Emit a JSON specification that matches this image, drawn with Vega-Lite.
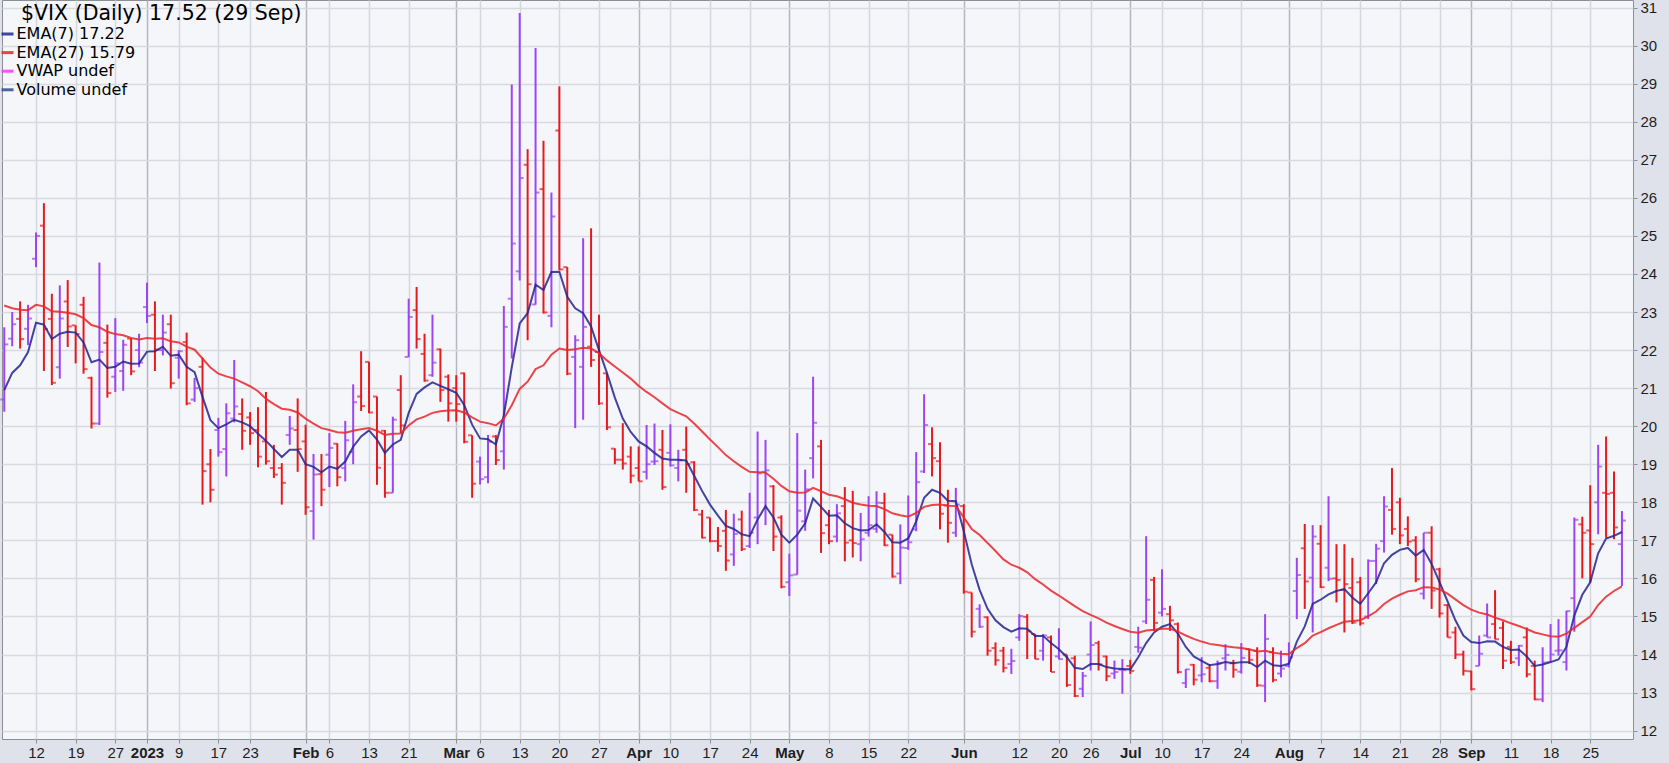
{
"$schema": "https://vega.github.io/schema/vega-lite/v6.json",
"width": 1631, "height": 739,
"padding": {"left": 2, "top": 0, "right": 36, "bottom": 24},
"autosize": {"type": "none"},
"background": "#dfe2ea",
"title": {"text": "$VIX (Daily) 17.52 (29 Sep)", "anchor": "start", "orient": "top", "offset": -34.5, "frame": "group", "dx": 19, "baseline": "middle", "font": "DejaVu Sans", "fontSize": 20.5, "fontWeight": "normal", "color": "#000000", "limit": 600},
"config": {
  "view": {"fill": "#f5f6fa", "stroke": "#8c8e96", "strokeWidth": 1},
  "font": "Liberation Sans",
  "axis": {"labelOverlap": false},
  "axisY": {"labelOverlap": false, "labelFlush": false, "labelBound": false}
},
"data": {"values": [
{"d":"2022-12-06","o":20.7,"h":22.6,"l":20.38,"c":22.15,"dir":"up","e7":20.95,"e27":23.17},
{"d":"2022-12-07","o":22.3,"h":23.0,"l":22.1,"c":22.68,"dir":"up","e7":21.4,"e27":23.1},
{"d":"2022-12-08","o":22.82,"h":23.28,"l":22.04,"c":22.29,"dir":"down","e7":21.6,"e27":23.06},
{"d":"2022-12-09","o":22.56,"h":23.19,"l":22.13,"c":22.83,"dir":"up","e7":21.95,"e27":23.05},
{"d":"2022-12-12","o":24.4,"h":25.09,"l":24.18,"c":25.0,"dir":"up","e7":22.72,"e27":23.19},
{"d":"2022-12-13","o":25.27,"h":25.86,"l":21.45,"c":22.55,"dir":"down","e7":22.67,"e27":23.15},
{"d":"2022-12-14","o":22.82,"h":23.48,"l":21.08,"c":21.14,"dir":"down","e7":22.29,"e27":23.02},
{"d":"2022-12-15","o":21.55,"h":23.7,"l":21.25,"c":22.83,"dir":"up","e7":22.43,"e27":23.01},
{"d":"2022-12-16","o":23.28,"h":23.84,"l":22.08,"c":22.62,"dir":"down","e7":22.48,"e27":22.98},
{"d":"2022-12-19","o":22.65,"h":22.65,"l":21.65,"c":22.42,"dir":"down","e7":22.46,"e27":22.94},
{"d":"2022-12-20","o":23.19,"h":23.4,"l":21.38,"c":21.5,"dir":"down","e7":22.2,"e27":22.84},
{"d":"2022-12-21","o":21.27,"h":21.3,"l":19.94,"c":20.07,"dir":"down","e7":21.68,"e27":22.66},
{"d":"2022-12-22","o":20.07,"h":24.3,"l":20.03,"c":21.95,"dir":"up","e7":21.75,"e27":22.6},
{"d":"2022-12-23","o":22.19,"h":22.67,"l":20.75,"c":20.87,"dir":"down","e7":21.53,"e27":22.48},
{"d":"2022-12-27","o":21.3,"h":22.84,"l":20.9,"c":21.65,"dir":"up","e7":21.56,"e27":22.42},
{"d":"2022-12-28","o":21.45,"h":22.27,"l":20.93,"c":22.14,"dir":"up","e7":21.7,"e27":22.39},
{"d":"2022-12-29","o":22.3,"h":22.31,"l":21.34,"c":21.44,"dir":"down","e7":21.64,"e27":22.32},
{"d":"2022-12-30","o":22.0,"h":22.43,"l":21.55,"c":21.67,"dir":"up","e7":21.65,"e27":22.28},
{"d":"2023-01-03","o":23.13,"h":23.77,"l":22.71,"c":22.9,"dir":"up","e7":21.96,"e27":22.32},
{"d":"2023-01-04","o":22.93,"h":23.28,"l":21.45,"c":22.01,"dir":"down","e7":21.97,"e27":22.3},
{"d":"2023-01-05","o":22.0,"h":22.93,"l":21.86,"c":22.46,"dir":"up","e7":22.09,"e27":22.31},
{"d":"2023-01-06","o":22.68,"h":22.93,"l":20.99,"c":21.13,"dir":"down","e7":21.85,"e27":22.23},
{"d":"2023-01-09","o":21.8,"h":22.0,"l":21.25,"c":21.97,"dir":"up","e7":21.88,"e27":22.2},
{"d":"2023-01-10","o":22.21,"h":22.46,"l":20.55,"c":20.6,"dir":"down","e7":21.56,"e27":22.09},
{"d":"2023-01-11","o":20.7,"h":21.27,"l":20.64,"c":21.0,"dir":"up","e7":21.42,"e27":22.01},
{"d":"2023-01-12","o":21.56,"h":21.8,"l":17.94,"c":18.82,"dir":"down","e7":20.77,"e27":21.78},
{"d":"2023-01-13","o":19.0,"h":19.4,"l":18.0,"c":18.33,"dir":"down","e7":20.16,"e27":21.54},
{"d":"2023-01-17","o":19.9,"h":20.22,"l":19.2,"c":19.32,"dir":"up","e7":19.95,"e27":21.38},
{"d":"2023-01-18","o":19.4,"h":20.6,"l":18.68,"c":20.34,"dir":"up","e7":20.05,"e27":21.31},
{"d":"2023-01-19","o":20.2,"h":21.74,"l":20.1,"c":20.52,"dir":"up","e7":20.17,"e27":21.25},
{"d":"2023-01-20","o":20.32,"h":20.73,"l":19.38,"c":19.88,"dir":"down","e7":20.1,"e27":21.15},
{"d":"2023-01-23","o":20.23,"h":20.37,"l":19.51,"c":19.82,"dir":"down","e7":20.0,"e27":21.05},
{"d":"2023-01-24","o":19.9,"h":20.5,"l":18.92,"c":19.2,"dir":"down","e7":19.8,"e27":20.92},
{"d":"2023-01-25","o":19.6,"h":20.9,"l":18.99,"c":19.08,"dir":"down","e7":19.62,"e27":20.72},
{"d":"2023-01-26","o":18.9,"h":19.51,"l":18.64,"c":18.73,"dir":"down","e7":19.4,"e27":20.58},
{"d":"2023-01-27","o":18.9,"h":19.03,"l":17.94,"c":18.51,"dir":"down","e7":19.19,"e27":20.46},
{"d":"2023-01-30","o":19.77,"h":20.27,"l":19.51,"c":19.94,"dir":"up","e7":19.38,"e27":20.43},
{"d":"2023-01-31","o":19.9,"h":20.73,"l":18.8,"c":19.4,"dir":"down","e7":19.38,"e27":20.36},
{"d":"2023-02-01","o":19.6,"h":20.04,"l":17.67,"c":17.87,"dir":"down","e7":19.0,"e27":20.2},
{"d":"2023-02-02","o":17.77,"h":19.27,"l":17.02,"c":18.73,"dir":"up","e7":18.93,"e27":20.07},
{"d":"2023-02-03","o":18.74,"h":19.27,"l":17.9,"c":18.33,"dir":"down","e7":18.79,"e27":19.95},
{"d":"2023-02-06","o":19.25,"h":19.82,"l":18.4,"c":19.43,"dir":"up","e7":18.94,"e27":19.9},
{"d":"2023-02-07","o":19.54,"h":19.55,"l":18.42,"c":18.66,"dir":"down","e7":18.88,"e27":19.84},
{"d":"2023-02-08","o":18.9,"h":20.14,"l":18.55,"c":19.63,"dir":"up","e7":19.07,"e27":19.83},
{"d":"2023-02-09","o":19.32,"h":21.1,"l":19.0,"c":20.63,"dir":"up","e7":19.46,"e27":19.88},
{"d":"2023-02-10","o":20.78,"h":21.97,"l":20.4,"c":20.53,"dir":"down","e7":19.73,"e27":19.92},
{"d":"2023-02-13","o":21.69,"h":21.69,"l":20.34,"c":20.36,"dir":"down","e7":19.89,"e27":19.95},
{"d":"2023-02-14","o":20.78,"h":20.78,"l":18.46,"c":18.91,"dir":"down","e7":19.65,"e27":19.88},
{"d":"2023-02-15","o":19.88,"h":19.9,"l":18.12,"c":18.25,"dir":"down","e7":19.3,"e27":19.77},
{"d":"2023-02-16","o":18.25,"h":20.25,"l":18.25,"c":20.17,"dir":"up","e7":19.52,"e27":19.8},
{"d":"2023-02-17","o":20.95,"h":21.34,"l":19.82,"c":20.02,"dir":"down","e7":19.64,"e27":19.81},
{"d":"2023-02-21","o":21.82,"h":23.35,"l":21.82,"c":22.87,"dir":"up","e7":20.35,"e27":20.02},
{"d":"2023-02-22","o":23.05,"h":23.66,"l":22.04,"c":22.29,"dir":"down","e7":20.85,"e27":20.18},
{"d":"2023-02-23","o":21.9,"h":22.43,"l":21.17,"c":21.2,"dir":"down","e7":21.02,"e27":20.25},
{"d":"2023-02-24","o":21.34,"h":22.93,"l":21.3,"c":21.67,"dir":"up","e7":21.15,"e27":20.35},
{"d":"2023-02-27","o":22.02,"h":22.04,"l":20.64,"c":20.95,"dir":"down","e7":21.06,"e27":20.39},
{"d":"2023-02-28","o":21.3,"h":21.36,"l":20.12,"c":20.6,"dir":"down","e7":20.97,"e27":20.41},
{"d":"2023-03-01","o":21.0,"h":21.34,"l":20.12,"c":20.58,"dir":"down","e7":20.88,"e27":20.42},
{"d":"2023-03-02","o":21.39,"h":21.41,"l":19.55,"c":19.59,"dir":"down","e7":20.56,"e27":20.36},
{"d":"2023-03-03","o":19.76,"h":19.76,"l":18.12,"c":18.49,"dir":"down","e7":20.04,"e27":20.23},
{"d":"2023-03-06","o":19.07,"h":19.2,"l":18.47,"c":18.61,"dir":"up","e7":19.68,"e27":20.12},
{"d":"2023-03-07","o":18.66,"h":19.77,"l":18.5,"c":19.59,"dir":"up","e7":19.66,"e27":20.08},
{"d":"2023-03-08","o":19.73,"h":19.77,"l":18.98,"c":19.11,"dir":"down","e7":19.52,"e27":20.02},
{"d":"2023-03-09","o":19.34,"h":23.16,"l":18.86,"c":22.61,"dir":"up","e7":20.29,"e27":20.2},
{"d":"2023-03-10","o":23.35,"h":28.98,"l":21.78,"c":24.8,"dir":"up","e7":21.55,"e27":20.55},
{"d":"2023-03-13","o":24.07,"h":30.86,"l":23.83,"c":26.52,"dir":"up","e7":22.7,"e27":20.98},
{"d":"2023-03-14","o":26.87,"h":27.28,"l":22.26,"c":23.73,"dir":"down","e7":22.97,"e27":21.17},
{"d":"2023-03-15","o":23.2,"h":29.94,"l":23.19,"c":26.14,"dir":"up","e7":23.72,"e27":21.5},
{"d":"2023-03-16","o":26.23,"h":27.5,"l":22.96,"c":22.99,"dir":"down","e7":23.58,"e27":21.6},
{"d":"2023-03-17","o":22.9,"h":26.14,"l":22.6,"c":25.51,"dir":"up","e7":24.05,"e27":21.88},
{"d":"2023-03-20","o":27.77,"h":28.93,"l":24.1,"c":24.12,"dir":"down","e7":24.06,"e27":22.04},
{"d":"2023-03-21","o":24.18,"h":24.18,"l":21.34,"c":21.38,"dir":"down","e7":23.4,"e27":22.0},
{"d":"2023-03-22","o":21.82,"h":22.39,"l":19.95,"c":22.26,"dir":"up","e7":23.1,"e27":22.02},
{"d":"2023-03-23","o":21.56,"h":24.94,"l":20.17,"c":22.61,"dir":"up","e7":22.97,"e27":22.06},
{"d":"2023-03-24","o":22.09,"h":25.2,"l":21.56,"c":21.74,"dir":"down","e7":22.62,"e27":22.04},
{"d":"2023-03-27","o":21.95,"h":22.93,"l":20.56,"c":20.6,"dir":"down","e7":22.0,"e27":21.92},
{"d":"2023-03-28","o":21.39,"h":21.39,"l":19.9,"c":19.97,"dir":"down","e7":21.4,"e27":21.73},
{"d":"2023-03-29","o":19.41,"h":19.42,"l":19.0,"c":19.12,"dir":"down","e7":20.75,"e27":21.57},
{"d":"2023-03-30","o":19.12,"h":20.08,"l":18.86,"c":19.02,"dir":"down","e7":20.2,"e27":21.41},
{"d":"2023-03-31","o":19.2,"h":19.47,"l":18.5,"c":18.7,"dir":"down","e7":19.85,"e27":21.25},
{"d":"2023-04-03","o":18.9,"h":19.47,"l":18.55,"c":18.55,"dir":"down","e7":19.6,"e27":21.06},
{"d":"2023-04-04","o":18.8,"h":20.03,"l":18.6,"c":19.0,"dir":"up","e7":19.47,"e27":20.9},
{"d":"2023-04-05","o":19.07,"h":20.07,"l":18.98,"c":19.08,"dir":"up","e7":19.3,"e27":20.76},
{"d":"2023-04-06","o":19.38,"h":19.9,"l":18.33,"c":18.4,"dir":"down","e7":19.15,"e27":20.6},
{"d":"2023-04-10","o":19.3,"h":20.05,"l":18.94,"c":18.97,"dir":"up","e7":19.12,"e27":20.45},
{"d":"2023-04-11","o":18.9,"h":19.38,"l":18.55,"c":19.1,"dir":"up","e7":19.12,"e27":20.35},
{"d":"2023-04-12","o":19.38,"h":19.99,"l":18.25,"c":19.0,"dir":"down","e7":19.1,"e27":20.26},
{"d":"2023-04-13","o":19.05,"h":19.08,"l":17.77,"c":17.8,"dir":"down","e7":18.7,"e27":20.07},
{"d":"2023-04-14","o":17.68,"h":17.8,"l":17.05,"c":17.07,"dir":"down","e7":18.3,"e27":19.86},
{"d":"2023-04-17","o":17.6,"h":17.6,"l":16.95,"c":16.98,"dir":"down","e7":17.94,"e27":19.65},
{"d":"2023-04-18","o":16.98,"h":17.35,"l":16.7,"c":16.85,"dir":"down","e7":17.65,"e27":19.45},
{"d":"2023-04-19","o":17.25,"h":17.8,"l":16.2,"c":16.47,"dir":"down","e7":17.38,"e27":19.24},
{"d":"2023-04-20","o":16.63,"h":17.7,"l":16.33,"c":17.17,"dir":"up","e7":17.3,"e27":19.08},
{"d":"2023-04-21","o":17.55,"h":17.78,"l":16.72,"c":16.77,"dir":"down","e7":17.16,"e27":18.93},
{"d":"2023-04-24","o":16.85,"h":18.25,"l":16.8,"c":17.2,"dir":"up","e7":17.11,"e27":18.8},
{"d":"2023-04-25","o":17.6,"h":19.86,"l":16.9,"c":18.76,"dir":"up","e7":17.55,"e27":18.79},
{"d":"2023-04-26","o":18.8,"h":19.64,"l":17.4,"c":18.84,"dir":"up","e7":17.9,"e27":18.78},
{"d":"2023-04-27","o":18.42,"h":18.45,"l":16.72,"c":17.1,"dir":"down","e7":17.6,"e27":18.62},
{"d":"2023-04-28","o":17.6,"h":17.66,"l":15.74,"c":15.78,"dir":"down","e7":17.15,"e27":18.43},
{"d":"2023-05-01","o":15.9,"h":16.65,"l":15.54,"c":16.08,"dir":"up","e7":16.94,"e27":18.29},
{"d":"2023-05-02","o":16.1,"h":19.82,"l":16.1,"c":17.78,"dir":"up","e7":17.15,"e27":18.25},
{"d":"2023-05-03","o":17.5,"h":18.86,"l":17.25,"c":18.34,"dir":"up","e7":17.45,"e27":18.26},
{"d":"2023-05-04","o":19.16,"h":21.3,"l":18.63,"c":20.09,"dir":"up","e7":18.1,"e27":18.38},
{"d":"2023-05-05","o":19.47,"h":19.64,"l":16.67,"c":17.19,"dir":"down","e7":17.88,"e27":18.29},
{"d":"2023-05-08","o":17.4,"h":17.8,"l":16.9,"c":16.98,"dir":"down","e7":17.65,"e27":18.2},
{"d":"2023-05-09","o":17.1,"h":17.95,"l":16.95,"c":17.71,"dir":"up","e7":17.66,"e27":18.16},
{"d":"2023-05-10","o":17.9,"h":18.4,"l":16.45,"c":16.94,"dir":"down","e7":17.45,"e27":18.08},
{"d":"2023-05-11","o":17.0,"h":18.3,"l":16.55,"c":16.93,"dir":"down","e7":17.32,"e27":17.99},
{"d":"2023-05-12","o":16.9,"h":17.72,"l":16.45,"c":17.03,"dir":"up","e7":17.26,"e27":17.94},
{"d":"2023-05-15","o":17.2,"h":18.16,"l":17.1,"c":17.4,"dir":"up","e7":17.27,"e27":17.91},
{"d":"2023-05-16","o":17.3,"h":18.29,"l":17.2,"c":17.99,"dir":"up","e7":17.42,"e27":17.9},
{"d":"2023-05-17","o":17.98,"h":18.25,"l":16.85,"c":16.87,"dir":"down","e7":17.22,"e27":17.82},
{"d":"2023-05-18","o":17.15,"h":17.15,"l":16.02,"c":16.05,"dir":"down","e7":16.95,"e27":17.71},
{"d":"2023-05-19","o":16.13,"h":17.42,"l":15.85,"c":16.81,"dir":"up","e7":16.94,"e27":17.66},
{"d":"2023-05-22","o":16.8,"h":18.18,"l":16.75,"c":16.95,"dir":"up","e7":17.05,"e27":17.62},
{"d":"2023-05-23","o":17.29,"h":19.32,"l":17.24,"c":18.53,"dir":"up","e7":17.5,"e27":17.72},
{"d":"2023-05-24","o":18.81,"h":20.84,"l":18.77,"c":20.03,"dir":"up","e7":18.12,"e27":17.88},
{"d":"2023-05-25","o":19.53,"h":19.97,"l":18.68,"c":19.16,"dir":"down","e7":18.33,"e27":17.93},
{"d":"2023-05-26","o":19.08,"h":19.58,"l":17.29,"c":17.7,"dir":"down","e7":18.25,"e27":17.94},
{"d":"2023-05-30","o":17.92,"h":18.33,"l":16.94,"c":17.46,"dir":"down","e7":18.04,"e27":17.91},
{"d":"2023-05-31","o":17.2,"h":18.38,"l":17.09,"c":17.94,"dir":"up","e7":18.03,"e27":17.9},
{"d":"2023-06-01","o":17.9,"h":17.95,"l":15.6,"c":15.65,"dir":"down","e7":17.24,"e27":17.6},
{"d":"2023-06-02","o":15.63,"h":15.63,"l":14.45,"c":14.6,"dir":"down","e7":16.37,"e27":17.3},
{"d":"2023-06-05","o":15.2,"h":15.32,"l":14.7,"c":14.73,"dir":"up","e7":15.7,"e27":17.14},
{"d":"2023-06-06","o":14.98,"h":15.0,"l":13.97,"c":14.1,"dir":"down","e7":15.2,"e27":16.93},
{"d":"2023-06-07","o":14.17,"h":14.32,"l":13.71,"c":13.85,"dir":"down","e7":14.9,"e27":16.72},
{"d":"2023-06-08","o":14.1,"h":14.2,"l":13.53,"c":13.65,"dir":"down","e7":14.72,"e27":16.5},
{"d":"2023-06-09","o":13.75,"h":14.15,"l":13.49,"c":13.83,"dir":"up","e7":14.6,"e27":16.36},
{"d":"2023-06-12","o":14.45,"h":15.06,"l":14.36,"c":15.01,"dir":"up","e7":14.69,"e27":16.28},
{"d":"2023-06-13","o":14.99,"h":15.06,"l":13.88,"c":14.61,"dir":"down","e7":14.68,"e27":16.16},
{"d":"2023-06-14","o":14.54,"h":14.54,"l":13.88,"c":13.88,"dir":"down","e7":14.49,"e27":15.98},
{"d":"2023-06-15","o":14.1,"h":14.54,"l":13.84,"c":14.5,"dir":"up","e7":14.49,"e27":15.84},
{"d":"2023-06-16","o":14.45,"h":14.5,"l":13.54,"c":13.54,"dir":"down","e7":14.3,"e27":15.68},
{"d":"2023-06-20","o":13.95,"h":14.69,"l":13.87,"c":13.88,"dir":"up","e7":14.14,"e27":15.55},
{"d":"2023-06-21","o":14.0,"h":14.0,"l":13.15,"c":13.2,"dir":"down","e7":13.93,"e27":15.41},
{"d":"2023-06-22","o":13.9,"h":13.97,"l":12.88,"c":12.91,"dir":"down","e7":13.65,"e27":15.27},
{"d":"2023-06-23","o":13.1,"h":13.54,"l":12.88,"c":13.44,"dir":"up","e7":13.62,"e27":15.14},
{"d":"2023-06-26","o":14.0,"h":14.87,"l":13.58,"c":14.25,"dir":"up","e7":13.75,"e27":15.04},
{"d":"2023-06-27","o":14.3,"h":14.36,"l":13.58,"c":13.74,"dir":"down","e7":13.75,"e27":14.95},
{"d":"2023-06-28","o":13.95,"h":13.97,"l":13.3,"c":13.43,"dir":"down","e7":13.67,"e27":14.84},
{"d":"2023-06-29","o":13.5,"h":13.84,"l":13.36,"c":13.54,"dir":"up","e7":13.63,"e27":14.75},
{"d":"2023-06-30","o":13.6,"h":13.88,"l":12.97,"c":13.59,"dir":"up","e7":13.62,"e27":14.67},
{"d":"2023-07-03","o":13.7,"h":13.86,"l":13.49,"c":13.57,"dir":"down","e7":13.61,"e27":14.6},
{"d":"2023-07-05","o":14.2,"h":14.73,"l":14.05,"c":14.18,"dir":"up","e7":13.93,"e27":14.57},
{"d":"2023-07-06","o":14.87,"h":17.11,"l":14.8,"c":15.44,"dir":"up","e7":14.3,"e27":14.63},
{"d":"2023-07-07","o":15.96,"h":16.04,"l":14.62,"c":14.83,"dir":"down","e7":14.58,"e27":14.65},
{"d":"2023-07-10","o":15.1,"h":16.24,"l":15.0,"c":15.2,"dir":"up","e7":14.73,"e27":14.68},
{"d":"2023-07-11","o":15.06,"h":15.28,"l":14.62,"c":14.9,"dir":"down","e7":14.8,"e27":14.68},
{"d":"2023-07-12","o":14.8,"h":14.84,"l":13.5,"c":13.54,"dir":"down","e7":14.55,"e27":14.6},
{"d":"2023-07-13","o":13.25,"h":13.62,"l":13.12,"c":13.61,"dir":"up","e7":14.2,"e27":14.5},
{"d":"2023-07-14","o":13.73,"h":13.75,"l":13.19,"c":13.34,"dir":"down","e7":13.95,"e27":14.41},
{"d":"2023-07-17","o":13.45,"h":13.93,"l":13.27,"c":13.48,"dir":"up","e7":13.83,"e27":14.34},
{"d":"2023-07-18","o":13.65,"h":13.75,"l":13.27,"c":13.3,"dir":"down","e7":13.72,"e27":14.28},
{"d":"2023-07-19","o":13.3,"h":13.84,"l":13.1,"c":13.76,"dir":"up","e7":13.75,"e27":14.25},
{"d":"2023-07-20","o":13.9,"h":14.27,"l":13.58,"c":13.99,"dir":"up","e7":13.8,"e27":14.22},
{"d":"2023-07-21","o":13.77,"h":13.86,"l":13.39,"c":13.6,"dir":"down","e7":13.77,"e27":14.19},
{"d":"2023-07-24","o":13.55,"h":14.3,"l":13.5,"c":13.91,"dir":"up","e7":13.8,"e27":14.17},
{"d":"2023-07-25","o":14.14,"h":14.15,"l":13.75,"c":13.86,"dir":"down","e7":13.8,"e27":14.14},
{"d":"2023-07-26","o":14.1,"h":14.19,"l":13.15,"c":13.19,"dir":"down","e7":13.67,"e27":14.08},
{"d":"2023-07-27","o":13.18,"h":15.06,"l":12.75,"c":14.41,"dir":"up","e7":13.84,"e27":14.1},
{"d":"2023-07-28","o":14.06,"h":14.19,"l":13.27,"c":13.33,"dir":"down","e7":13.72,"e27":14.05},
{"d":"2023-07-31","o":13.5,"h":14.1,"l":13.4,"c":13.63,"dir":"up","e7":13.7,"e27":14.02},
{"d":"2023-08-01","o":13.7,"h":14.32,"l":13.66,"c":13.93,"dir":"up","e7":13.76,"e27":14.01},
{"d":"2023-08-02","o":15.67,"h":16.54,"l":14.93,"c":16.09,"dir":"up","e7":14.34,"e27":14.17},
{"d":"2023-08-03","o":16.79,"h":17.43,"l":15.2,"c":15.92,"dir":"down","e7":14.74,"e27":14.3},
{"d":"2023-08-04","o":16.02,"h":17.4,"l":14.58,"c":17.1,"dir":"up","e7":15.33,"e27":14.5},
{"d":"2023-08-07","o":16.91,"h":17.4,"l":15.75,"c":15.77,"dir":"down","e7":15.44,"e27":14.59},
{"d":"2023-08-08","o":16.28,"h":18.16,"l":15.93,"c":15.99,"dir":"up","e7":15.58,"e27":14.69},
{"d":"2023-08-09","o":16.0,"h":16.9,"l":15.37,"c":15.96,"dir":"down","e7":15.67,"e27":14.78},
{"d":"2023-08-10","o":15.7,"h":16.9,"l":14.58,"c":15.85,"dir":"down","e7":15.72,"e27":14.86},
{"d":"2023-08-11","o":15.75,"h":16.54,"l":14.8,"c":14.84,"dir":"down","e7":15.5,"e27":14.88},
{"d":"2023-08-14","o":15.9,"h":16.04,"l":14.76,"c":14.82,"dir":"down","e7":15.33,"e27":14.9},
{"d":"2023-08-15","o":15.0,"h":16.5,"l":14.93,"c":16.46,"dir":"up","e7":15.61,"e27":15.0},
{"d":"2023-08-16","o":16.46,"h":16.91,"l":15.85,"c":16.78,"dir":"up","e7":15.9,"e27":15.13},
{"d":"2023-08-17","o":16.98,"h":18.16,"l":16.68,"c":17.89,"dir":"up","e7":16.4,"e27":15.33},
{"d":"2023-08-18","o":17.8,"h":18.9,"l":17.15,"c":17.3,"dir":"down","e7":16.62,"e27":15.47},
{"d":"2023-08-21","o":18.0,"h":18.12,"l":16.9,"c":17.13,"dir":"down","e7":16.75,"e27":15.57},
{"d":"2023-08-22","o":17.3,"h":17.63,"l":16.85,"c":16.97,"dir":"down","e7":16.8,"e27":15.66},
{"d":"2023-08-23","o":17.0,"h":17.11,"l":15.9,"c":15.98,"dir":"down","e7":16.6,"e27":15.69},
{"d":"2023-08-24","o":15.6,"h":17.2,"l":15.45,"c":17.2,"dir":"up","e7":16.75,"e27":15.77},
{"d":"2023-08-25","o":17.2,"h":17.37,"l":15.2,"c":15.68,"dir":"down","e7":16.38,"e27":15.76},
{"d":"2023-08-28","o":16.24,"h":16.28,"l":14.97,"c":15.08,"dir":"down","e7":15.9,"e27":15.71},
{"d":"2023-08-29","o":15.3,"h":15.32,"l":14.45,"c":14.45,"dir":"down","e7":15.4,"e27":15.6},
{"d":"2023-08-30","o":14.58,"h":14.73,"l":13.88,"c":14.0,"dir":"down","e7":14.9,"e27":15.45},
{"d":"2023-08-31","o":14.0,"h":14.1,"l":13.45,"c":13.57,"dir":"down","e7":14.5,"e27":15.3},
{"d":"2023-09-01","o":13.56,"h":13.57,"l":13.06,"c":13.09,"dir":"down","e7":14.33,"e27":15.18},
{"d":"2023-09-05","o":13.7,"h":14.5,"l":13.7,"c":14.02,"dir":"up","e7":14.3,"e27":15.1},
{"d":"2023-09-06","o":14.5,"h":15.34,"l":14.45,"c":14.45,"dir":"up","e7":14.35,"e27":15.05},
{"d":"2023-09-07","o":14.8,"h":15.69,"l":14.4,"c":14.4,"dir":"down","e7":14.34,"e27":14.97},
{"d":"2023-09-08","o":14.7,"h":14.87,"l":13.62,"c":13.84,"dir":"down","e7":14.2,"e27":14.9},
{"d":"2023-09-11","o":14.2,"h":14.36,"l":13.75,"c":13.8,"dir":"down","e7":14.12,"e27":14.82},
{"d":"2023-09-12","o":13.9,"h":14.25,"l":13.7,"c":14.23,"dir":"up","e7":14.13,"e27":14.75},
{"d":"2023-09-13","o":14.45,"h":14.71,"l":13.4,"c":13.48,"dir":"down","e7":13.95,"e27":14.67},
{"d":"2023-09-14","o":13.7,"h":13.84,"l":12.8,"c":12.82,"dir":"down","e7":13.7,"e27":14.58},
{"d":"2023-09-15","o":12.82,"h":14.19,"l":12.75,"c":13.79,"dir":"up","e7":13.74,"e27":14.53},
{"d":"2023-09-18","o":13.8,"h":14.8,"l":13.8,"c":14.0,"dir":"up","e7":13.8,"e27":14.48},
{"d":"2023-09-19","o":14.1,"h":14.93,"l":13.97,"c":14.11,"dir":"up","e7":13.87,"e27":14.47},
{"d":"2023-09-20","o":13.8,"h":15.15,"l":13.58,"c":15.14,"dir":"up","e7":14.2,"e27":14.55},
{"d":"2023-09-21","o":15.48,"h":17.6,"l":14.6,"c":17.54,"dir":"up","e7":15.03,"e27":14.7},
{"d":"2023-09-22","o":17.42,"h":17.62,"l":16.0,"c":17.2,"dir":"down","e7":15.57,"e27":14.85},
{"d":"2023-09-25","o":17.26,"h":18.45,"l":15.89,"c":16.9,"dir":"down","e7":15.9,"e27":15.0},
{"d":"2023-09-26","o":18.0,"h":19.51,"l":17.16,"c":18.94,"dir":"up","e7":16.66,"e27":15.3},
{"d":"2023-09-27","o":18.25,"h":19.73,"l":17.07,"c":18.22,"dir":"down","e7":17.05,"e27":15.52},
{"d":"2023-09-28","o":18.25,"h":18.81,"l":17.03,"c":17.34,"dir":"down","e7":17.12,"e27":15.67},
{"d":"2023-09-29","o":16.9,"h":17.77,"l":15.8,"c":17.52,"dir":"up","e7":17.22,"e27":15.79}
]},
"encoding": {
  "x": {
    "field": "d", "type": "ordinal",
    "scale": {"type": "point", "padding": 0.84, "align": 0.17},
    "axis": {
      "title": null,
      "values": ["2022-12-12","2022-12-19","2022-12-27","2023-01-03","2023-01-09","2023-01-17","2023-01-23","2023-02-01","2023-02-06","2023-02-13","2023-02-21","2023-03-01","2023-03-06","2023-03-13","2023-03-20","2023-03-27","2023-04-03","2023-04-10","2023-04-17","2023-04-24","2023-05-01","2023-05-08","2023-05-15","2023-05-22","2023-06-01","2023-06-12","2023-06-20","2023-06-26","2023-07-03","2023-07-10","2023-07-17","2023-07-24","2023-08-01","2023-08-07","2023-08-14","2023-08-21","2023-08-28","2023-09-01","2023-09-11","2023-09-18","2023-09-25"],
      "labelExpr": "datum.value == '2023-01-03' ? '2023' : (indexof(['2023-02-01','2023-03-01','2023-04-03','2023-05-01','2023-06-01','2023-07-03','2023-08-01','2023-09-01'], datum.value) >= 0 ? utcFormat(toDate(datum.value), '%b') : '' + toNumber(substring(datum.value, 8, 10)))",
      "labelFontWeight": {"condition": {"test": "datum.value == '2023-01-03' || indexof(['2023-02-01','2023-03-01','2023-04-03','2023-05-01','2023-06-01','2023-07-03','2023-08-01','2023-09-01'], datum.value) >= 0", "value": "bold"}, "value": "normal"},
      "labelAngle": 0,
      "labelFontSize": 15,
      "labelColor": "#1e1e1e",
      "labelPadding": 2,
      "labelOverlap": false,
      "domain": false,
      "tickSize": 4,
      "tickColor": "#8c8e96",
      "grid": true,
      "gridColor": {"condition": {"test": "datum.value == '2023-01-03' || indexof(['2023-02-01','2023-03-01','2023-04-03','2023-05-01','2023-06-01','2023-07-03','2023-08-01','2023-09-01'], datum.value) >= 0", "value": "#b4b7c0"}, "value": "#d5d7de"},
      "gridWidth": 1.5
    }
  }
},
"layer": [
  {
    "mark": {"type": "rule", "strokeWidth": 2},
    "encoding": {
      "y": {"field": "l", "type": "quantitative", "title": null,
        "scale": {"domain": [11.78, 31.2], "nice": false, "zero": false},
        "axis": {"orient": "right", "values": [12,13,14,15,16,17,18,19,20,21,22,23,24,25,26,27,28,29,30,31], "format": "d", "labelFontSize": 15, "labelColor": "#1e1e1e", "labelOverlap": false, "labelFlush": false, "labelBound": false, "tickSize": 4, "tickColor": "#8c8e96", "labelPadding": 3, "domain": false, "grid": true, "gridColor": "#d8dae0", "gridWidth": 1.5}},
      "y2": {"field": "h"},
      "color": {"field": "dir", "type": "nominal", "scale": {"domain": ["up", "down"], "range": ["#9b45f5", "#e8191c"]}, "legend": null}
    }
  },
  {
    "mark": {"type": "tick", "orient": "horizontal", "size": 4, "thickness": 2, "xOffset": -2},
    "encoding": {
      "y": {"field": "o", "type": "quantitative", "title": null,
        "axis": {"orient": "right", "values": [12,13,14,15,16,17,18,19,20,21,22,23,24,25,26,27,28,29,30,31], "format": "d", "labelFontSize": 15, "labelColor": "#1e1e1e", "labelOverlap": false, "labelFlush": false, "labelBound": false, "tickSize": 4, "tickColor": "#8c8e96", "labelPadding": 3, "domain": false, "grid": true, "gridColor": "#d8dae0", "gridWidth": 1.5}},
      "color": {"field": "dir", "type": "nominal", "legend": null}
    }
  },
  {
    "mark": {"type": "tick", "orient": "horizontal", "size": 4, "thickness": 2, "xOffset": 2},
    "encoding": {
      "y": {"field": "c", "type": "quantitative", "title": null,
        "axis": {"orient": "right", "values": [12,13,14,15,16,17,18,19,20,21,22,23,24,25,26,27,28,29,30,31], "format": "d", "labelFontSize": 15, "labelColor": "#1e1e1e", "labelOverlap": false, "labelFlush": false, "labelBound": false, "tickSize": 4, "tickColor": "#8c8e96", "labelPadding": 3, "domain": false, "grid": true, "gridColor": "#d8dae0", "gridWidth": 1.5}},
      "color": {"field": "dir", "type": "nominal", "legend": null}
    }
  },
  {
    "transform": [{"fold": ["e7", "e27"], "as": ["s", "v"]}],
    "mark": {"type": "line", "strokeWidth": 2, "opacity": 0.85},
    "encoding": {
      "y": {"field": "v", "type": "quantitative", "title": null,
        "axis": {"orient": "right", "values": [12,13,14,15,16,17,18,19,20,21,22,23,24,25,26,27,28,29,30,31], "format": "d", "labelFontSize": 15, "labelColor": "#1e1e1e", "labelOverlap": false, "labelFlush": false, "labelBound": false, "tickSize": 4, "tickColor": "#8c8e96", "labelPadding": 3, "domain": false, "grid": true, "gridColor": "#d8dae0", "gridWidth": 1.5}},
      "stroke": {"field": "s", "type": "nominal",
        "scale": {"domain": ["e7", "e27", "vwap", "vol"], "range": ["#25258f", "#e8262b", "#ff33ff", "#2b4f8f"]},
        "legend": {
          "orient": "none", "legendX": -2.5, "legendY": 26, "padding": 0,
          "title": null,
          "labelExpr": "datum.value == 'e7' ? 'EMA(7) 17.22' : datum.value == 'e27' ? 'EMA(27) 15.79' : datum.value == 'vwap' ? 'VWAP undef' : 'Volume undef'",
          "labelFont": "DejaVu Sans", "labelFontSize": 16, "labelLimit": 400,
          "symbolType": "stroke", "symbolStrokeWidth": 3, "symbolSize": 144,
          "rowPadding": 2.6, "labelOffset": 1,
          "encode": {
            "labels": {"update": {"fill": {"signal": "scale('stroke', datum.value)"}}}
          }
        }
      }
    }
  }
]
}
